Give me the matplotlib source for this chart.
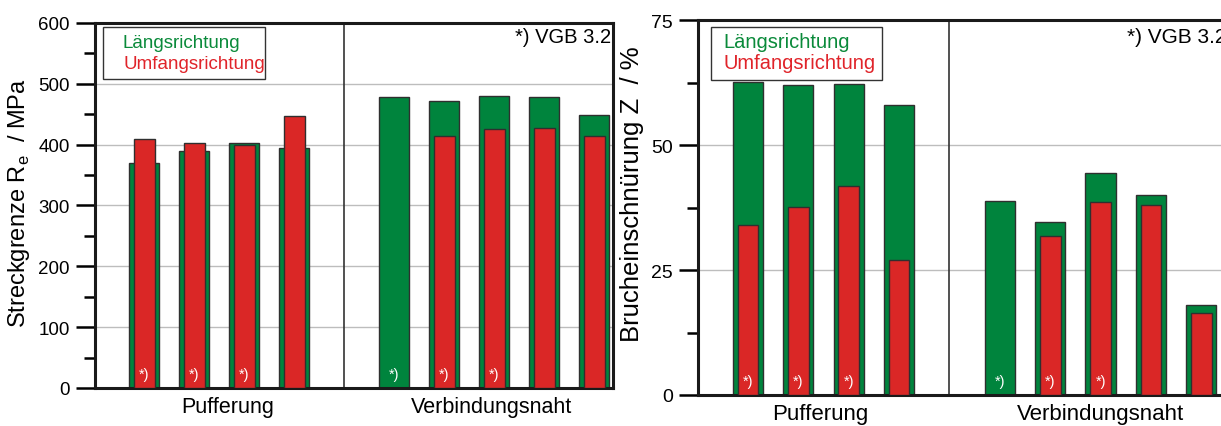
import matplotlib.pyplot as plt
from matplotlib.patches import Rectangle
from matplotlib.ticker import MultipleLocator

plt.rcParams['font.family'] = ['Liberation Sans', 'DejaVu Sans']

# data
positions = [0, 1, 2, 3, 5, 6, 7, 8, 9]
re_laengs = [370, 389, 403, 395, 479, 471, 480, 478, 449]
re_umfang = [409, 402, 400, 447, None, 415, 425, 427, 415]
z_laengs = [62.6, 62.1, 62.3, 58.0, 38.8, 34.7, 44.5, 40.0, 18.0]
z_umfang = [34.0, 37.6, 41.8, 27.0, None, 31.8, 38.6, 38.0, 16.4]
vgb_marked = [0, 1, 2, 5, 6, 7]
groups = ['Pufferung', 'Verbindungsnaht']

green = '#00843d'
red = '#da2726'
edge = '#2f2f2f'

fig = plt.figure(figsize=(12.21, 4.27), dpi=100)
ax1 = fig.add_axes([0.0778, 0.089, 0.4242, 0.8548])
ax2 = fig.add_axes([0.5717, 0.0726, 0.4283, 0.8782])


def draw(ax, laengs, umfang, ymax, major, star_y, label_x, fs):
    ax.bar(positions, laengs, width=0.6, color=green, edgecolor=edge, linewidth=1, zorder=2)
    up = [p for p, v in zip(positions, umfang) if v is not None]
    uv = [v for v in umfang if v is not None]
    ax.bar(up, uv, width=0.41, color=red, edgecolor=edge, linewidth=1, zorder=3)
    for p in vgb_marked:
        ax.text(p, star_y, '*)', color='white', fontsize=10.5, ha='center', va='center', zorder=4)
    ax.axvline(4, color='#333333', linewidth=1.2, zorder=1)
    ax.set_ylim(0, ymax)
    ax.yaxis.set_major_locator(MultipleLocator(major))
    ax.yaxis.set_minor_locator(MultipleLocator(major / 2))
    ax.grid(axis='y', color='#bdbdbd', linewidth=1, zorder=0)
    ax.set_axisbelow(True)
    ax.tick_params(axis='y', which='major', length=14, width=1.8, labelsize=fs, pad=4)
    ax.tick_params(axis='y', which='minor', length=8, width=1.8)
    ax.set_xticks(label_x)
    ax.set_xticklabels(groups, fontsize=fs + 2)
    ax.tick_params(axis='x', length=0, pad=6)
    for s in ['left', 'bottom', 'top', 'right']:
        ax.spines[s].set_linewidth(2.2)
        ax.spines[s].set_color('#1a1a1a')


draw(ax1, re_laengs, re_umfang, 600, 100, 23, [1.67, 6.95], 13.5)
ax1.set_xlim(-0.99, 9.37)
draw(ax2, z_laengs, z_umfang, 75, 25, 2.8, [1.44, 6.99], 14)
ax2.set_xlim(-0.99, 9.39)
ax2.spines['right'].set_visible(False)

# legend boxes
ax1.add_patch(Rectangle((0.0154, 0.847), 0.3126, 0.142, transform=ax1.transAxes,
                        fill=False, edgecolor='#333333', linewidth=1, zorder=5))
ax1.text(0.054, 0.934, 'Längsrichtung', color='#0a8a3a', fontsize=13.5, transform=ax1.transAxes, va='baseline')
ax1.text(0.056, 0.877, 'Umfangsrichtung', color='#e0242a', fontsize=13.5, transform=ax1.transAxes, va='baseline')
ax2.add_patch(Rectangle((0.025, 0.84), 0.327, 0.141, transform=ax2.transAxes,
                        fill=False, edgecolor='#333333', linewidth=1, zorder=5))
ax2.text(0.048, 0.928, 'Längsrichtung', color='#0a8a3a', fontsize=14.5, transform=ax2.transAxes, va='baseline')
ax2.text(0.048, 0.872, 'Umfangsrichtung', color='#e0242a', fontsize=14.5, transform=ax2.transAxes, va='baseline')

ax1.text(7.41, 578, '*) VGB 3.2', fontsize=14.5, ha='left', va='center')
ax2.text(7.52, 71.8, '*) VGB 3.2', fontsize=15, ha='left', va='center', clip_on=False)

# y labels
fig.text(19 / 1221, 1 - 203.5 / 427, 'Streckgrenze R$_\\mathregular{e}$  / MPa', rotation=90,
         ha='center', va='center', fontsize=17)
fig.text(632 / 1221, 1 - 194 / 427, 'Brucheinschnürung Z  / %', rotation=90,
         ha='center', va='center', fontsize=18.5)

fig.savefig('out.png', dpi=100)
